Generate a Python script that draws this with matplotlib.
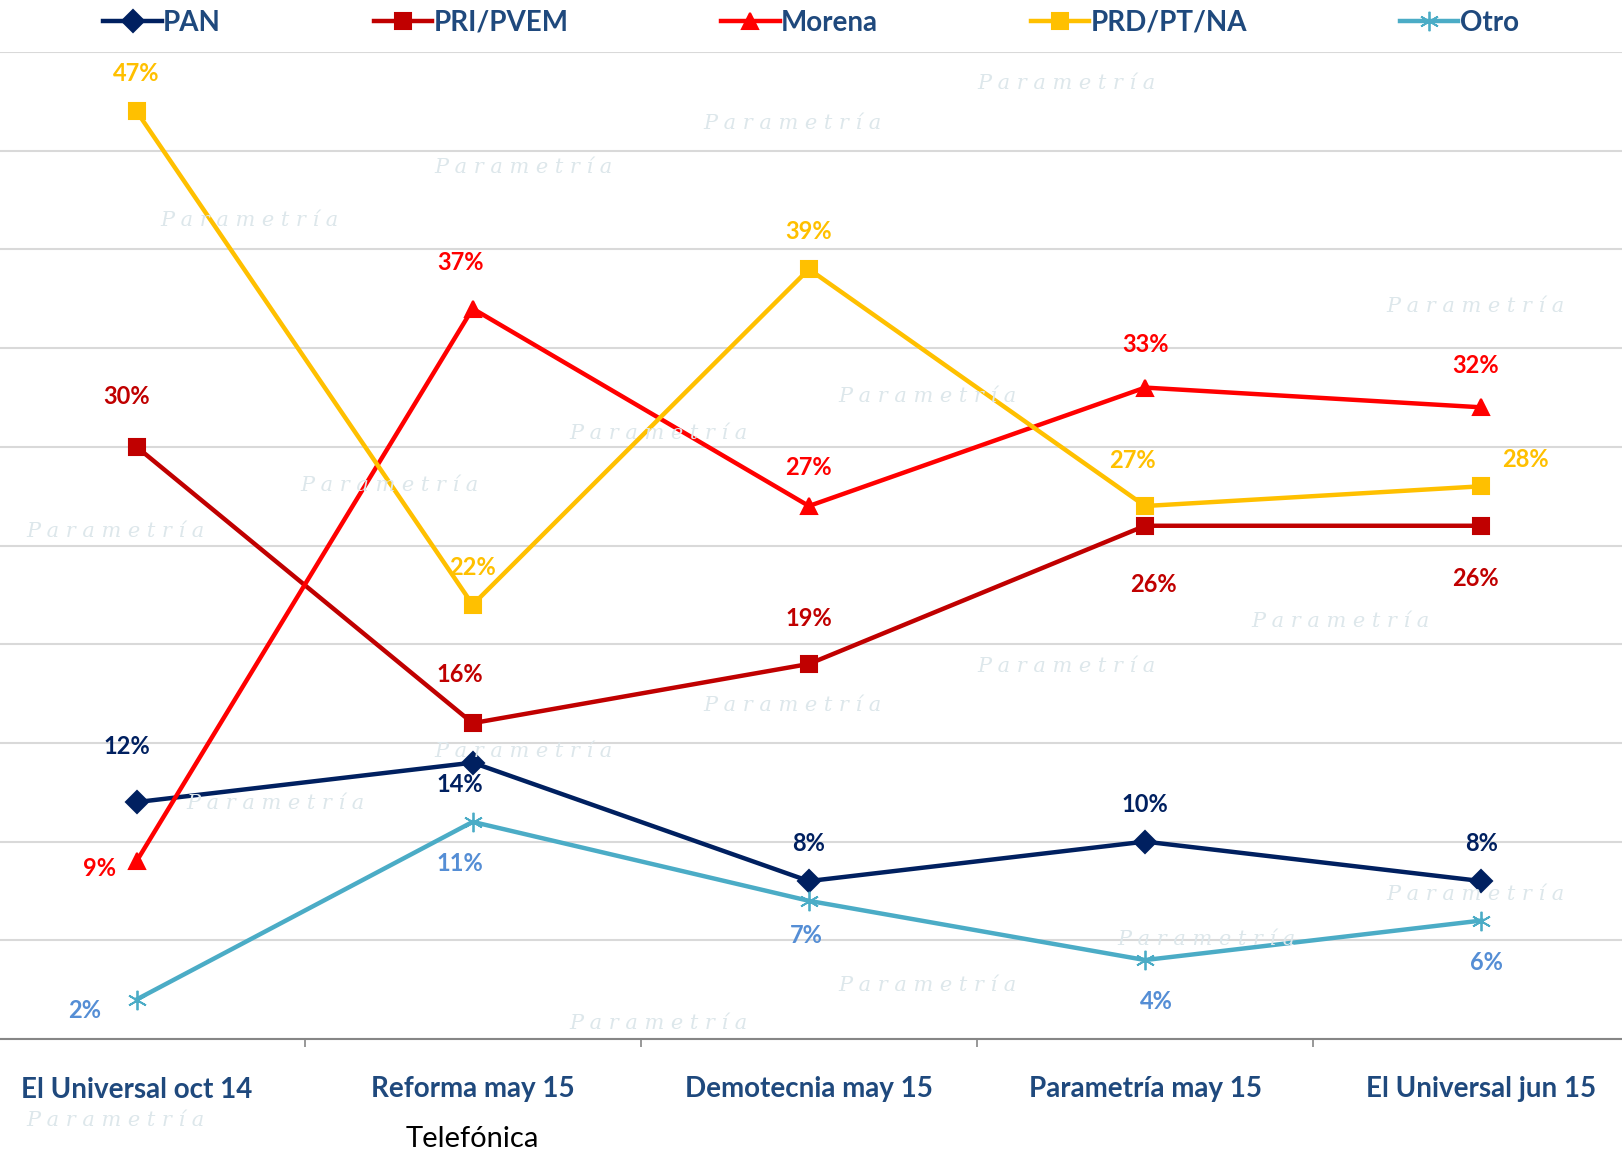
import matplotlib
matplotlib.use("Agg")
import matplotlib.pyplot as plt
from matplotlib.ticker import MultipleLocator, FixedLocator

plt.rcParams['font.family'] = ['Lato', 'DejaVu Sans']

# Data
categories = ["El Universal oct 14", "Reforma may 15", "Demotecnia may 15",
              "Parametría may 15", "El Universal jun 15"]
pan = [12, 14, 8, 10, 8]
pri_pvem = [30, 16, 19, 26, 26]
morena = [9, 37, 27, 33, 32]
prd_pt_na = [47, 22, 39, 27, 28]
otro = [2, 11, 7, 4, 6]

series = [
    ("PAN", pan, "#002060", "#002060", "D", 11),
    ("PRI/PVEM", pri_pvem, "#C00000", "#C00000", "s", 12),
    ("Morena", morena, "#FF0000", "#FF0000", "^", 12),
    ("PRD/PT/NA", prd_pt_na, "#FFC000", "#FFC000", "s", 12),
    ("Otro", otro, "#4BACC6", "#558ED5", (6, 2, 0), 14),
]

# label offsets in points (dx, dy) for each point
offsets = {
    "PAN": [(-7, 40), (-9, -16), (0, 27), (0, 27), (0, 27)],
    "PRI/PVEM": [(-7, 36), (-9, 35), (0, 33), (6, -42), (-4, -38)],
    "Morena": [(-27, -5), (-9, 33), (0, 28), (0, 31), (-4, 30)],
    "PRD/PT/NA": [(0, 27), (0, 27), (0, 27), (-9, 33), (32, 19)],
    "Otro": [(-37, -8), (-9, -30), (-2, -25), (8, -30), (4, -30)],
}

W, H = 1622, 1157
fig = plt.figure(figsize=(W / 100, H / 100), dpi=100)
fig.patch.set_facecolor("white")

# faint watermark
wm = [(155, 213), (420, 162), (680, 119), (945, 81),
      (25, 514), (290, 469), (550, 419), (810, 383), (1340, 296),
      (180, 776), (420, 726), (680, 682), (945, 644), (1210, 601),
      (810, 952), (1080, 908), (1340, 864), (550, 989), (25, 1083)]
for x, y in wm:
    fig.text(x / 1568, 1 - y / 1118, "P a r a m e t r í a", color="#DDE7EB",
             fontsize=15, style="italic", family="DejaVu Serif",
             ha="left", va="center", zorder=0)

cw = 336.2
left = 136.5 - cw / 2
ax = fig.add_axes([left / W, (H - 1039) / H, 5 * cw / W, (1039 - 52) / H])
ax.set_facecolor("none")

x = list(range(len(categories)))
for name, vals, col, lcol, mk, ms in series:
    ax.plot(x, vals, color=col, lw=3.2, marker=mk, markersize=ms,
            markeredgecolor=col, markeredgewidth=1.5 if mk != (6, 2, 0) else 1.3,
            label=name, zorder=3, clip_on=False)
    for i, v in enumerate(vals):
        dx, dy = offsets[name][i]
        ax.annotate(f"{v}%", (i, v), xytext=(dx, dy), textcoords="offset points",
                    ha="center", va="center", color=lcol, fontsize=17,
                    fontweight="bold", zorder=4)

ax.set_xlim(-0.5, 4.5)
ax.set_ylim(0, 50)
ax.yaxis.set_major_locator(MultipleLocator(5))
ax.grid(axis="y", color="#D9D9D9", lw=1.5, zorder=1)
ax.set_axisbelow(True)
for s in ["left", "right", "top"]:
    ax.spines[s].set_visible(False)
ax.spines["bottom"].set_color("#868686")
ax.spines["bottom"].set_linewidth(1.5)
ax.tick_params(axis="y", left=False, labelleft=False)
ax.set_xticks(x)
ax.set_xticklabels(categories, fontsize=20, fontweight="bold", color="#1F497D")
ax.xaxis.set_minor_locator(FixedLocator([0.5, 1.5, 2.5, 3.5]))
ax.tick_params(axis="x", which="major", length=0, pad=27)
ax.tick_params(axis="x", which="minor", length=6, width=1.2, color="#868686")

ax.text(1, -0.088, "Telefónica", transform=ax.get_xaxis_transform(),
        ha="center", va="top", fontsize=21, color="black")

fig.legend(loc="center", bbox_to_anchor=(0.5, 1 - 23 / H), ncol=5, frameon=False,
           handlelength=2.1, handletextpad=0.05, columnspacing=5.5,
           labelcolor="#1F497D", prop={"weight": "bold", "size": 20})

fig.savefig("out.png", dpi=100)
